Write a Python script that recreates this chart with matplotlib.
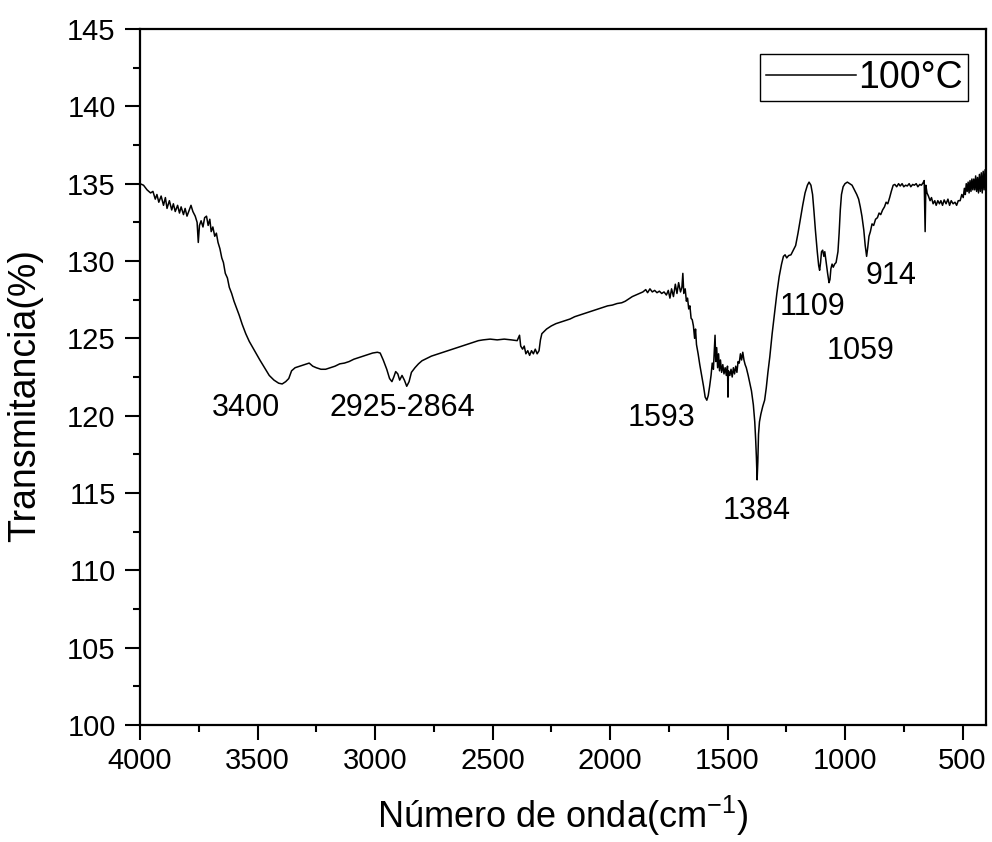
import numpy as np
import matplotlib.pyplot as plt
from matplotlib.ticker import MultipleLocator

plt.rcParams['font.family'] = ['Liberation Sans', 'DejaVu Sans']
plt.rcParams['mathtext.default'] = 'regular'

# espectro FTIR, muestra a 100°C
onda = [4000, 3985, 3970, 3955, 3945, 3935, 3928, 3920, 3910, 3900, 3892, 3885, 3875, 3865, 3858,
        3850, 3840, 3832, 3825, 3815, 3808, 3800, 3790, 3783, 3775, 3765, 3757, 3752, 3747, 3740,
        3732, 3725, 3717, 3710, 3703, 3697, 3690, 3682, 3675, 3668, 3660, 3652, 3645, 3637, 3628,
        3620, 3610, 3600, 3590, 3578, 3565, 3550, 3535, 3520, 3505, 3490, 3470, 3450, 3430, 3410,
        3395, 3380, 3367, 3355, 3340, 3320, 3300, 3280, 3265, 3250, 3230, 3210, 3190, 3170, 3150,
        3130, 3110, 3090, 3070, 3050, 3030, 3010, 2990, 2978, 2965, 2950, 2938, 2928, 2920, 2912,
        2903, 2895, 2885, 2875, 2865, 2855, 2845, 2830, 2815, 2800, 2780, 2760, 2740, 2720, 2700,
        2680, 2660, 2640, 2620, 2600, 2580, 2560, 2540, 2510, 2480, 2450, 2420, 2395, 2385, 2380,
        2372, 2365, 2358, 2350, 2342, 2334, 2326, 2318, 2310, 2302, 2296, 2290, 2270, 2250, 2230,
        2210, 2190, 2170, 2150, 2130, 2110, 2090, 2070, 2050, 2030, 2010, 1990, 1970, 1950, 1935,
        1920, 1905, 1890, 1875, 1860, 1848, 1840, 1830, 1820, 1810, 1800, 1790, 1780, 1770, 1760,
        1752, 1745, 1738, 1730, 1722, 1715, 1708, 1700, 1694, 1690, 1686, 1680, 1675, 1670, 1665,
        1660, 1655, 1650, 1645, 1640, 1636, 1632, 1625, 1618, 1610, 1602, 1595, 1588, 1582, 1576,
        1570, 1565, 1560, 1556, 1553, 1550, 1546, 1542, 1538, 1534, 1530, 1525, 1520, 1515, 1510,
        1505, 1500, 1498, 1496, 1490, 1485, 1480, 1475, 1470, 1465, 1460, 1455, 1450, 1445, 1440,
        1435, 1430, 1425, 1420, 1412, 1405, 1398, 1390, 1384, 1380, 1377, 1374, 1371, 1368, 1364,
        1358, 1350, 1342, 1335, 1328, 1320, 1310, 1300, 1290, 1280, 1270, 1262, 1255, 1248, 1240,
        1230, 1220, 1210, 1200, 1190, 1180, 1170, 1160, 1153, 1145, 1138, 1132, 1126, 1118, 1112,
        1108, 1104, 1100, 1095, 1090, 1086, 1080, 1074, 1068, 1064, 1060, 1055, 1050, 1044, 1038,
        1030, 1025, 1020, 1015, 1008, 1000, 990, 980, 970, 960, 950, 942, 935, 928, 920,
        914, 908, 903, 898, 892, 885, 878, 870, 862, 855, 848, 840, 832, 825, 818,
        810, 803, 795, 788, 780, 772, 765, 757, 750, 742, 735, 727, 720, 712, 705,
        697, 690, 682, 675, 668, 663, 659, 656, 651, 645, 638, 632, 625, 618, 612,
        605, 598, 592, 585, 578, 570, 562, 555, 548, 540, 532, 525, 518, 510, 503,
        497, 492, 488, 484, 480, 476, 472, 468, 464, 460, 456, 452, 448, 444, 440,
        436, 432, 428, 424, 420, 416, 412, 408, 404, 400]
trans = [135.0, 134.9, 134.6, 134.4, 134.5, 134.0, 134.3, 133.8, 134.2, 133.6, 134.1, 133.4, 133.9, 133.3, 133.7,
         133.2, 133.6, 133.1, 133.5, 133.0, 133.4, 132.9, 133.3, 133.6, 133.2, 132.9, 132.5, 131.2, 132.3, 132.6,
         132.2, 132.8, 132.9, 132.3, 132.7, 131.9, 132.2, 131.6, 131.8, 131.2, 130.8, 130.2, 129.9, 129.2, 128.9,
         128.3, 127.9, 127.4, 127.0, 126.5, 125.9, 125.3, 124.8, 124.4, 124.0, 123.6, 123.1, 122.6, 122.3, 122.1,
         122.05, 122.2, 122.4, 122.9, 123.1, 123.2, 123.3, 123.4, 123.2, 123.1, 123.0, 123.0, 123.1, 123.2, 123.35,
         123.4, 123.5, 123.65, 123.75, 123.85, 123.95, 124.05, 124.1, 124.05, 123.6, 123.0, 122.4, 122.2, 122.5, 122.85,
         122.7, 122.3, 122.6, 122.3, 121.9, 122.2, 122.8, 123.1, 123.35, 123.55, 123.7, 123.85, 123.95, 124.05, 124.15,
         124.25, 124.35, 124.45, 124.55, 124.65, 124.75, 124.85, 124.9, 124.95, 124.9, 124.95, 124.9, 124.85, 125.2, 124.5,
         124.3, 124.5, 124.0, 124.2, 123.9, 124.2, 124.0, 124.3, 124.0, 124.2, 124.9, 125.3, 125.6, 125.8, 125.95,
         126.05, 126.15, 126.25, 126.4, 126.5, 126.6, 126.7, 126.8, 126.9, 127.0, 127.1, 127.15, 127.25, 127.3, 127.4,
         127.55, 127.7, 127.8, 127.9, 128.0, 128.15, 127.95, 128.2, 128.0, 128.1, 127.95, 128.05, 127.9, 128.0, 127.8,
         128.1, 127.6, 128.2, 127.7, 128.5, 127.9, 128.6, 128.0, 128.3, 129.2, 127.9, 128.2, 127.4, 127.6, 126.9,
         127.1, 126.3, 126.2, 125.8, 125.0, 125.6, 124.6, 124.0, 123.3, 122.6, 121.9, 121.2, 121.0, 121.3, 121.9,
         122.6, 123.4, 123.0, 124.3, 125.2, 123.5, 124.4, 123.1, 124.0, 122.9, 123.6, 122.8, 123.3, 122.7, 123.1,
         122.6, 123.2, 121.2, 122.9, 122.6, 123.0, 122.5, 123.1, 122.7, 123.2, 122.8, 123.5, 123.4, 124.0, 123.6,
         124.1, 123.6, 123.3, 123.1, 122.6, 122.1, 121.6, 120.7, 119.6, 118.4, 117.3, 115.85, 117.0, 118.8, 119.6,
         120.1, 120.6, 121.0, 121.8, 122.8, 123.8, 125.3, 126.6, 127.9, 129.0, 129.8, 130.3, 130.4, 130.2, 130.35,
         130.4, 130.7, 131.0, 131.8, 132.7, 133.6, 134.4, 134.9, 135.1, 134.9, 134.3, 133.2, 132.0, 130.6, 129.7,
         129.4, 129.9, 130.6, 130.7, 130.3, 130.6, 129.9, 129.2, 128.6, 128.8, 129.5, 129.8, 129.6, 129.8, 129.9,
         130.6, 131.8, 133.3, 134.3, 134.8, 135.0, 135.1, 135.0, 134.9, 134.6, 134.3, 134.0, 133.5, 132.9, 132.0,
         131.0, 130.3, 130.9, 131.6, 131.9, 132.4, 132.3, 132.7, 132.8, 133.1, 133.0, 133.3, 133.5, 133.8, 133.7,
         134.1, 134.5, 134.9, 134.95, 134.8, 135.0, 134.85, 135.0, 134.8, 134.9, 134.85, 135.0, 134.8, 134.95, 134.9,
         135.0, 134.8, 134.95, 134.9, 135.05, 135.2, 131.9, 134.9, 134.4, 134.2, 133.9, 134.1, 133.7, 133.9, 133.6,
         133.9, 133.7, 133.9, 133.6, 133.95, 133.7, 134.0, 133.6, 133.9, 133.7, 133.8, 133.6, 133.9, 133.9, 134.3,
         134.1, 134.7, 134.3, 135.0, 134.5, 135.1, 134.4, 135.2, 134.5, 135.3, 134.6, 135.3, 134.6, 135.5, 134.5,
         135.4, 134.4, 135.6, 134.5, 135.7, 134.4, 135.8, 134.6, 135.9, 134.4]

# etiquetas de picos
picos = ['3400', '2925-2864', '1593', '1384', '1109', '1059', '914']
picos_x = [3551, 2882, 1779, 1374, 1140, 932, 804]
picos_y = [120.5, 120.5, 119.85, 113.85, 127.0, 124.2, 129.0]

fig = plt.figure(figsize=(9.92, 8.42), dpi=100)
ax = fig.add_axes([140/992, 1-725/842, 846/992, 696/842])
ax.plot(onda, trans, color='black', lw=1.1, label='100°C')

for t, x, y in zip(picos, picos_x, picos_y):
    ax.text(x, y, t, fontsize=22, ha='center', va='center')

ax.set_xlim(4000, 400)
ax.set_ylim(100, 145)
ax.xaxis.set_major_locator(MultipleLocator(500))
ax.xaxis.set_minor_locator(MultipleLocator(250))
ax.yaxis.set_major_locator(MultipleLocator(5))
ax.yaxis.set_minor_locator(MultipleLocator(2.5))
ax.tick_params(which='major', direction='out', length=10.5, width=1.5, labelsize=21, pad=5)
ax.tick_params(which='minor', direction='out', length=5, width=1.5)
ax.tick_params(axis='y', pad=7)
for s in ax.spines.values():
    s.set_linewidth(1.6)

ax.set_xlabel('Número de onda(cm$^{-1}$)', fontsize=26, labelpad=14)
ax.set_ylabel('Transmitancia(%)', fontsize=27)
ax.yaxis.set_label_coords(-0.114, 0.474)

leg = ax.legend(loc='upper right', bbox_to_anchor=(0.979, 0.964), borderaxespad=0, fontsize=27,
                handlelength=2.4, handletextpad=0.05, borderpad=0.15, fancybox=False, framealpha=1)
leg.get_frame().set_edgecolor('black')
leg.get_frame().set_linewidth(1.0)

plt.savefig('out.png', dpi=100)
